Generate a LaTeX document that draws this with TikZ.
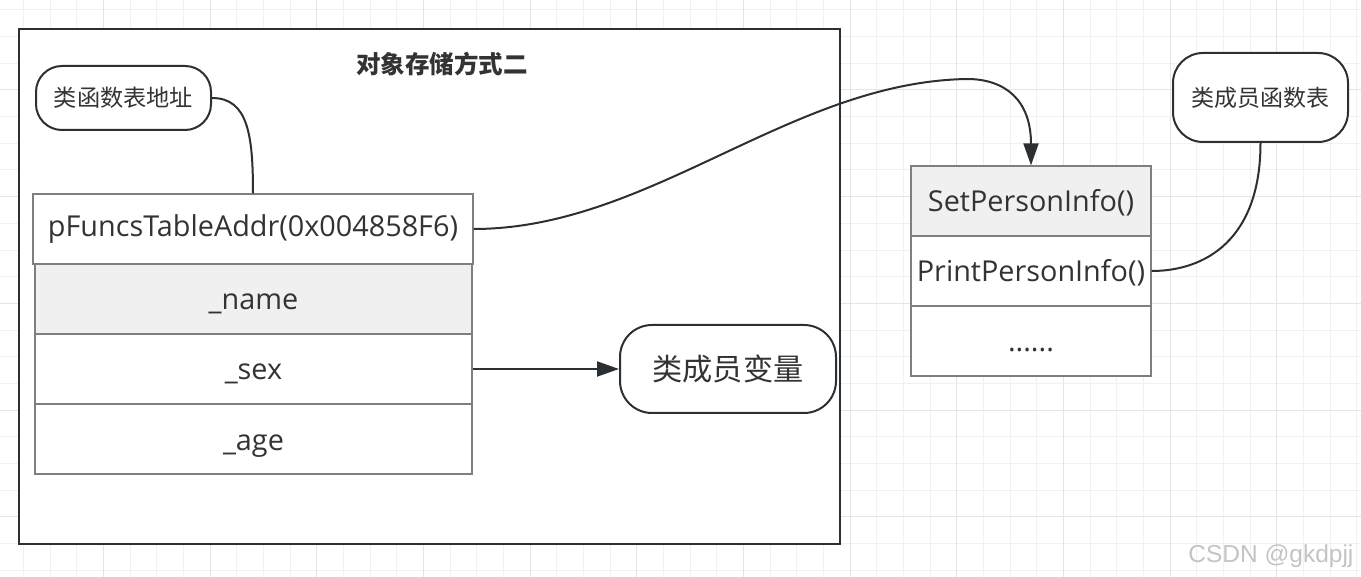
\documentclass[tikz,border=0pt]{standalone}
\usepackage{fontspec}
\setmainfont{Open Sans}
\newfontfamily\cjk{Noto Sans CJK SC}
\newfontfamily\wmfont{Liberation Sans}
\usetikzlibrary{arrows.meta}
\definecolor{ink}{HTML}{333333}
\definecolor{edgec}{HTML}{2B3035}
\definecolor{cellline}{HTML}{7F7F7F}
\definecolor{cellfill}{HTML}{F0F0F0}
\definecolor{gridminor}{HTML}{F1F1F1}
\definecolor{gridmajor}{HTML}{E5E5E5}
\definecolor{wmark}{HTML}{C4C4C4}
\tikzset{
  cell/.style={draw=cellline, line width=1.2pt, fill=white, text=ink, inner sep=0pt,
    font=\fontsize{28.8}{32}\selectfont, text height=28pt, text depth=6pt},
  pill/.style={draw=edgec, line width=2pt, fill=white, text=ink, inner sep=0pt},
  link/.style={draw=edgec, line width=2pt},
  tipped/.style={-{Triangle[length=22pt,width=15pt]}},
  gminor/.style={draw=gridminor, line width=1pt},
  gmajor/.style={draw=gridmajor, line width=1pt}
}
\begin{document}
\begin{tikzpicture}[x=1pt,y=-1pt]
\useasboundingbox (0,0) rectangle (1361,577);
\fill[white] (0,0) rectangle (1361,577);
% grid
\foreach \i in {0,...,52} { \draw[gminor] ({-3.333+26.667*\i},0) -- ++(0,577); }
\foreach \j in {0,...,21} { \draw[gminor] (0,{10+26.667*\j}) -- ++(1361,0); }
\foreach \i in {0,...,11} { \draw[gmajor] ({103.333+106.667*\i},0) -- ++(0,577); }
\foreach \j in {0,...,4} { \draw[gmajor] (0,{90+106.667*\j}) -- ++(1361,0); }

% outer frame
\node[draw=edgec, line width=2pt, fill=white, inner sep=0pt,
  minimum width=821pt, minimum height=515pt] (frame) at (429.5,286.5) {};
\node[font=\cjk\bfseries\fontsize{24.5}{27}\selectfont, text=ink] (title) at (442,64) {对象存储方式二};

% object layout
\node[pill, rounded corners=26pt, minimum width=175pt, minimum height=64pt,
  font=\cjk\fontsize{23.2}{26}\selectfont] (fnaddr) at (123.5,98) {类函数表地址};
\node[cell, minimum width=440pt, minimum height=70pt, text height=22pt] (pf) at (253,229) {pFuncsTableAddr(0x004858F6)};
\node[cell, fill=cellfill, minimum width=437pt, minimum height=70pt] (name) at (253.5,299) {\_name};
\node[cell, minimum width=437pt, minimum height=70pt] (sex) at (253.5,369) {\_sex};
\node[cell, minimum width=437pt, minimum height=70pt] (age) at (253.5,439) {\_age};
\node[pill, rounded corners=32pt, minimum width=216pt, minimum height=88pt,
  font=\cjk\fontsize{30.2}{33}\selectfont] (vars) at (728,369) {类成员变量};

% function table
\node[cell, fill=cellfill, minimum width=240pt, minimum height=70pt] (set) at (1031,201) {SetPersonInfo()};
\node[cell, minimum width=240pt, minimum height=70pt] (print) at (1031,271) {PrintPersonInfo()};
\node[cell, minimum width=240pt, minimum height=70pt] (more) at (1031,341) {......};
\node[pill, rounded corners=30pt, minimum width=175pt, minimum height=89pt,
  font=\cjk\fontsize{23}{26}\selectfont] (ftable) at (1260.5,97.5) {类成员函数表};

% connectors
\coordinate (peak) at (967,79);
\draw[link, tipped] (pf.east) .. controls (650,229) and (790,82) .. (peak)
  .. controls (1005,79) and (1031,100) .. (set.north);
\draw[link] (fnaddr.east) .. controls (248,98) and (253,135) .. (pf.north);
\draw[link] (ftable.south) .. controls (1260.5,240) and (1205,271) .. (print.east);
\draw[link, tipped] (sex.east) -- (vars.west);

% watermark
\node[font=\wmfont\fontsize{24.5}{28}\selectfont, text=wmark, anchor=base east] (wm) at (1357,562) {CSDN @gkdpjj};
\end{tikzpicture}
\end{document}
